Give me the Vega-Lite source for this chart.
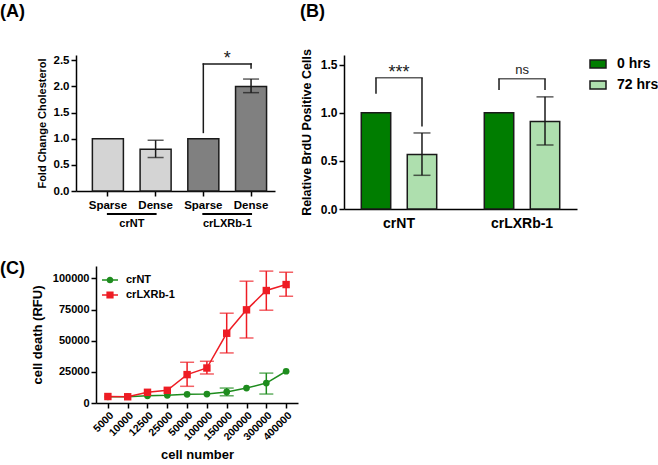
{
  "$schema": "https://vega.github.io/schema/vega-lite/v6.json",
  "padding": {"left": 0, "top": 2, "right": 0, "bottom": 0},
  "config": {
    "font": "Liberation Sans",
    "view": {"stroke": null},
    "axis": {"domainColor": "#000", "domainWidth": 1.5, "tickColor": "#000", "tickWidth": 1.5, "tickSize": 5, "labelColor": "#000", "labelFont": "Liberation Sans", "labelFontWeight": "bold", "titleFont": "Liberation Sans", "titleFontWeight": "bold", "titleColor": "#000", "grid": false, "labelOverlap": false},
    "legend": {"labelFont": "Liberation Sans", "labelFontWeight": "bold", "labelColor": "#000"},
    "title": {"font": "Liberation Sans", "fontWeight": "bold", "fontSize": 18, "anchor": "start", "frame": "group", "color": "#000"}
  },
  "columns": 1,
  "align": "none",
  "spacing": 30,
  "resolve": {"scale": {"color": "independent", "fill": "independent", "shape": "independent"}, "legend": {"color": "independent", "fill": "independent", "shape": "independent"}},
  "concat": [
    {
      "columns": 2,
      "align": "none",
      "spacing": 25,
      "resolve": {"scale": {"color": "independent", "fill": "independent", "shape": "independent"}, "legend": {"color": "independent", "fill": "independent", "shape": "independent"}},
      "concat": [
        {
          "width": 199,
          "height": 136,
          "title": {"text": "(A)", "dx": -76, "offset": 29},
          "data": {"values": [
            {"id": "crNT Sparse", "group": "crNT", "value": 1.0},
            {"id": "crNT Dense", "group": "crNT", "value": 0.8, "lo": 0.64, "hi": 0.97},
            {"id": "crLXRb-1 Sparse", "group": "crLXRb-1", "value": 1.0},
            {"id": "crLXRb-1 Dense", "group": "crLXRb-1", "value": 2.0, "lo": 1.88, "hi": 2.14}
          ]},
          "layer": [
            {
              "mark": {"type": "bar", "stroke": "#1a1a1a", "strokeWidth": 1.5},
              "encoding": {
                "x": {"field": "id", "type": "nominal", "scale": {"domain": ["crNT Sparse", "crNT Dense", "crLXRb-1 Sparse", "crLXRb-1 Dense"], "paddingInner": 0.35, "paddingOuter": 0.26, "align": 0.66},
                  "axis": {"labelExpr": "split(datum.label, ' ')[1]", "labelAngle": 0, "labelFontSize": 11.5, "title": null, "labelPadding": 3}},
                "y": {"field": "value", "type": "quantitative", "scale": {"domain": [0, 2.5]},
                  "axis": {"values": [0, 0.5, 1, 1.5, 2, 2.5], "format": ".1f", "title": "Fold Change Cholesterol", "labelFontSize": 11.5, "titleFontSize": 11, "titlePadding": 6}},
                "fill": {"field": "group", "type": "nominal", "scale": {"domain": ["crNT", "crLXRb-1"], "range": ["#d4d4d4", "#808080"]}, "legend": null}
              }
            },
            {
              "transform": [{"filter": "isValid(datum.lo)"}],
              "mark": {"type": "rule", "strokeWidth": 1.5, "color": "#1a1a1a"},
              "encoding": {"x": {"field": "id", "type": "nominal"}, "y": {"field": "lo", "type": "quantitative", "axis": {"values": [0, 0.5, 1, 1.5, 2, 2.5], "format": ".1f", "title": "Fold Change Cholesterol", "labelFontSize": 11.5, "titleFontSize": 11, "titlePadding": 6}}, "y2": {"field": "hi"}}
            },
            {
              "transform": [{"filter": "isValid(datum.lo)"}],
              "mark": {"type": "tick", "thickness": 1.5, "size": 16, "color": "#1a1a1a"},
              "encoding": {"x": {"field": "id", "type": "nominal"}, "y": {"field": "lo", "type": "quantitative", "axis": {"values": [0, 0.5, 1, 1.5, 2, 2.5], "format": ".1f", "title": "Fold Change Cholesterol", "labelFontSize": 11.5, "titleFontSize": 11, "titlePadding": 6}}}
            },
            {
              "transform": [{"filter": "isValid(datum.lo)"}],
              "mark": {"type": "tick", "thickness": 1.5, "size": 16, "color": "#1a1a1a"},
              "encoding": {"x": {"field": "id", "type": "nominal"}, "y": {"field": "hi", "type": "quantitative", "axis": {"values": [0, 0.5, 1, 1.5, 2, 2.5], "format": ".1f", "title": "Fold Change Cholesterol", "labelFontSize": 11.5, "titleFontSize": 11, "titlePadding": 6}}}
            },
            {
              "data": {"values": [
                {"from": "crLXRb-1 Sparse", "to": "crLXRb-1 Sparse", "y": 1.12, "y2": 2.426},
                {"from": "crLXRb-1 Sparse", "to": "crLXRb-1 Dense", "y": 2.426, "y2": 2.426},
                {"from": "crLXRb-1 Dense", "to": "crLXRb-1 Dense", "y": 2.353, "y2": 2.426}
              ]},
              "mark": {"type": "rule", "strokeWidth": 1.5, "color": "#1a1a1a", "strokeCap": "square"},
              "encoding": {"x": {"field": "from", "type": "nominal"}, "x2": {"field": "to"}, "y": {"field": "y", "type": "quantitative", "axis": {"values": [0, 0.5, 1, 1.5, 2, 2.5], "format": ".1f", "title": "Fold Change Cholesterol", "labelFontSize": 11.5, "titleFontSize": 11, "titlePadding": 6}}, "y2": {"field": "y2"}}
            },
            {
              "data": {"values": [{"at": "crLXRb-1 Sparse", "label": "*", "y": 2.426}]},
              "mark": {"type": "text", "fontSize": 18, "baseline": "alphabetic", "dx": 24, "color": "#1a1a1a"},
              "encoding": {"x": {"field": "at", "type": "nominal"}, "y": {"field": "y", "type": "quantitative", "axis": {"values": [0, 0.5, 1, 1.5, 2, 2.5], "format": ".1f", "title": "Fold Change Cholesterol", "labelFontSize": 11.5, "titleFontSize": 11, "titlePadding": 6}}, "text": {"field": "label"}}
            },
            {
              "data": {"values": [
                {"group": "crNT", "from": "crNT Sparse", "to": "crNT Dense"},
                {"group": "crLXRb-1", "from": "crLXRb-1 Sparse", "to": "crLXRb-1 Dense"}
              ]},
              "layer": [
                {
                  "mark": {"type": "rule", "strokeWidth": 2, "color": "#000", "strokeCap": "square"},
                  "encoding": {"x": {"field": "from", "type": "nominal"}, "x2": {"field": "to"}, "y": {"datum": -0.441, "type": "quantitative", "axis": {"values": [0, 0.5, 1, 1.5, 2, 2.5], "format": ".1f", "title": "Fold Change Cholesterol", "labelFontSize": 11.5, "titleFontSize": 11, "titlePadding": 6}}}
                },
                {
                  "mark": {"type": "text", "fontSize": 11, "fontWeight": "bold", "baseline": "middle", "dx": 24, "color": "#000"},
                  "encoding": {"x": {"field": "from", "type": "nominal"}, "y": {"datum": -0.625, "type": "quantitative", "axis": {"values": [0, 0.5, 1, 1.5, 2, 2.5], "format": ".1f", "title": "Fold Change Cholesterol", "labelFontSize": 11.5, "titleFontSize": 11, "titlePadding": 6}}, "text": {"field": "group"}}
                }
              ]
            }
          ]
        },
        {
          "width": 233,
          "height": 154,
          "title": {"text": "(B)", "dx": -44, "offset": 28},
          "data": {"values": [
            {"group": "crNT", "time": "0 hrs", "value": 1.0},
            {"group": "crNT", "time": "72 hrs", "value": 0.565, "lo": 0.35, "hi": 0.79},
            {"group": "crLXRb-1", "time": "0 hrs", "value": 1.0},
            {"group": "crLXRb-1", "time": "72 hrs", "value": 0.91, "lo": 0.665, "hi": 1.165}
          ]},
          "layer": [
            {
              "mark": {"type": "bar", "stroke": "#1a1a1a", "strokeWidth": 1.5},
              "encoding": {
                "x": {"field": "group", "type": "nominal", "scale": {"domain": ["crNT", "crLXRb-1"], "paddingInner": 0.2, "paddingOuter": 0.047},
                  "axis": {"labelAngle": 0, "labelFontSize": 14, "ticks": false, "labelPadding": 7, "title": null}},
                "xOffset": {"field": "time", "type": "nominal", "scale": {"domain": ["0 hrs", "72 hrs"], "paddingInner": 0.36, "paddingOuter": 0.25}},
                "y": {"field": "value", "type": "quantitative", "scale": {"domain": [0, 1.5]},
                  "axis": {"values": [0, 0.5, 1, 1.5], "format": ".1f", "title": "Relative BrdU Positive Cells", "labelFontSize": 12, "titleFontSize": 12.5, "titlePadding": 7}},
                "fill": {"field": "time", "type": "nominal", "scale": {"domain": ["0 hrs", "72 hrs"], "range": ["#007d00", "#aedfae"]},
                  "legend": {"title": null, "orient": "right", "offset": 12, "padding": 0, "symbolType": "M-1,-0.5H1V0.5H-1Z", "symbolSize": 256, "symbolStrokeColor": "#1a1a1a", "symbolStrokeWidth": 1.5, "symbolOpacity": 1, "labelFontSize": 14, "labelOffset": 10, "rowPadding": 5, "labelLimit": 200}}
              }
            },
            {
              "transform": [{"filter": "isValid(datum.lo)"}],
              "mark": {"type": "rule", "strokeWidth": 1.5, "color": "#1a1a1a"},
              "encoding": {"x": {"field": "group", "type": "nominal"}, "xOffset": {"field": "time", "type": "nominal"}, "y": {"field": "lo", "type": "quantitative"}, "y2": {"field": "hi"}}
            },
            {
              "transform": [{"filter": "isValid(datum.lo)"}],
              "mark": {"type": "tick", "thickness": 1.5, "size": 17, "color": "#1a1a1a"},
              "encoding": {"x": {"field": "group", "type": "nominal"}, "xOffset": {"field": "time", "type": "nominal"}, "y": {"field": "lo", "type": "quantitative"}}
            },
            {
              "transform": [{"filter": "isValid(datum.lo)"}],
              "mark": {"type": "tick", "thickness": 1.5, "size": 17, "color": "#1a1a1a"},
              "encoding": {"x": {"field": "group", "type": "nominal"}, "xOffset": {"field": "time", "type": "nominal"}, "y": {"field": "hi", "type": "quantitative"}}
            },
            {
              "data": {"values": [
                {"group": "crNT", "time": "0 hrs", "y": 1.198, "y2": 1.364},
                {"group": "crNT", "time": "72 hrs", "y": 0.857, "y2": 1.364},
                {"group": "crLXRb-1", "time": "0 hrs", "y": 1.237, "y2": 1.354},
                {"group": "crLXRb-1", "time": "72 hrs", "y": 1.237, "y2": 1.354}
              ]},
              "mark": {"type": "rule", "strokeWidth": 1.5, "color": "#1a1a1a"},
              "encoding": {"x": {"field": "group", "type": "nominal"}, "xOffset": {"field": "time", "type": "nominal"}, "y": {"field": "y", "type": "quantitative"}, "y2": {"field": "y2"}}
            },
            {
              "data": {"values": [
                {"group": "crNT", "y": 1.364, "label": "***"},
                {"group": "crLXRb-1", "y": 1.354, "label": "ns"}
              ]},
              "layer": [
                {
                  "mark": {"type": "tick", "thickness": 1.5, "size": 47.5, "color": "#1a1a1a"},
                  "encoding": {"x": {"field": "group", "type": "nominal"}, "y": {"field": "y", "type": "quantitative"}}
                },
                {
                  "transform": [{"filter": "datum.label == '***'"}],
                  "mark": {"type": "text", "fontSize": 18, "baseline": "alphabetic", "color": "#1a1a1a"},
                  "encoding": {"x": {"field": "group", "type": "nominal"}, "y": {"field": "y", "type": "quantitative"}, "text": {"field": "label"}}
                },
                {
                  "transform": [{"filter": "datum.label == 'ns'"}],
                  "mark": {"type": "text", "fontSize": 13, "baseline": "alphabetic", "dy": -5, "color": "#1a1a1a"},
                  "encoding": {"x": {"field": "group", "type": "nominal"}, "y": {"field": "y", "type": "quantitative"}, "text": {"field": "label"}}
                }
              ]
            }
          ]
        }
      ]
    },
    {
      "columns": 2,
      "align": "none",
      "spacing": -77,
      "resolve": {"scale": {"color": "independent", "fill": "independent", "shape": "independent"}, "legend": {"color": "independent", "fill": "independent", "shape": "independent"}},
      "concat": [
        {"width": 1, "height": 1, "data": {"values": [{"t": ""}]}, "mark": "text", "encoding": {"text": {"field": "t"}}},
        {
          "width": 202,
          "height": 137,
          "title": {"text": "(C)", "dx": -96, "offset": -12},
          "data": {"values": [
            {"n": "5000", "series": "crNT", "value": 5000},
            {"n": "10000", "series": "crNT", "value": 5100},
            {"n": "12500", "series": "crNT", "value": 5800},
            {"n": "25000", "series": "crNT", "value": 6200},
            {"n": "50000", "series": "crNT", "value": 7000},
            {"n": "100000", "series": "crNT", "value": 7200},
            {"n": "150000", "series": "crNT", "value": 8900, "lo": 5800, "hi": 12000},
            {"n": "200000", "series": "crNT", "value": 12000},
            {"n": "300000", "series": "crNT", "value": 16000, "lo": 7200, "hi": 24000},
            {"n": "400000", "series": "crNT", "value": 25500},
            {"n": "5000", "series": "crLXRb-1", "value": 5200},
            {"n": "10000", "series": "crLXRb-1", "value": 5000},
            {"n": "12500", "series": "crLXRb-1", "value": 8600},
            {"n": "25000", "series": "crLXRb-1", "value": 10200},
            {"n": "50000", "series": "crLXRb-1", "value": 22800, "lo": 13400, "hi": 32700},
            {"n": "100000", "series": "crLXRb-1", "value": 28100, "lo": 23300, "hi": 33500},
            {"n": "150000", "series": "crLXRb-1", "value": 56000, "lo": 40200, "hi": 72100},
            {"n": "200000", "series": "crLXRb-1", "value": 74800, "lo": 52200, "hi": 97800},
            {"n": "300000", "series": "crLXRb-1", "value": 90300, "lo": 74500, "hi": 105900},
            {"n": "400000", "series": "crLXRb-1", "value": 95100, "lo": 85700, "hi": 105000}
          ]},
          "encoding": {
            "x": {"field": "n", "type": "ordinal", "sort": null, "scale": {"type": "point", "padding": 0.6},
              "axis": {"labelAngle": -45, "labelFontSize": 10.5, "title": "cell number", "titleFontSize": 13, "titlePadding": 6}},
            "y": {"field": "value", "type": "quantitative", "scale": {"domain": [0, 110000]},
              "axis": {"values": [0, 25000, 50000, 75000, 100000], "format": "d", "title": "cell death (RFU)", "labelFontSize": 11, "titleFontSize": 13, "titlePadding": 8}},
            "color": {"field": "series", "type": "nominal", "scale": {"domain": ["crNT", "crLXRb-1"], "range": ["#1e8c1e", "#ee1c24"]},
              "legend": {"title": null, "orient": "top-left", "offset": 6, "padding": 0, "labelFontSize": 11, "labelOffset": 8, "rowPadding": 2, "symbolSize": 256, "symbolStrokeWidth": 0, "symbolOpacity": 1}}
          },
          "layer": [
            {
              "mark": {"type": "line", "strokeWidth": 1.5}
            },
            {
              "transform": [{"filter": "isValid(datum.lo)"}],
              "mark": {"type": "rule", "strokeWidth": 1.5},
              "encoding": {"y": {"field": "lo", "type": "quantitative"}, "y2": {"field": "hi"}}
            },
            {
              "transform": [{"filter": "isValid(datum.lo)"}],
              "mark": {"type": "tick", "thickness": 1.5, "size": 14, "orient": "horizontal"},
              "encoding": {"y": {"field": "lo", "type": "quantitative"}}
            },
            {
              "transform": [{"filter": "isValid(datum.lo)"}],
              "mark": {"type": "tick", "thickness": 1.5, "size": 14, "orient": "horizontal"},
              "encoding": {"y": {"field": "hi", "type": "quantitative"}}
            },
            {
              "transform": [{"filter": "datum.series == 'crNT'"}],
              "mark": {"type": "point", "filled": true, "opacity": 1, "size": 45, "shape": "circle"}
            },
            {
              "transform": [{"filter": "datum.series == 'crLXRb-1'"}],
              "mark": {"type": "point", "filled": true, "opacity": 1, "size": 55, "shape": "square"}
            },
            {
              "transform": [{"filter": "false"}],
              "mark": {"type": "point", "filled": true, "opacity": 1},
              "encoding": {
                "shape": {"field": "series", "type": "nominal", "scale": {"domain": ["crNT", "crLXRb-1"],
                  "range": ["M-1,-0.09H1V0.09H-1Z M0.42,0A0.42,0.42,0,1,1,-0.42,0A0.42,0.42,0,1,1,0.42,0Z", "M-1,-0.09H1V0.09H-1Z M-0.45,-0.45H0.45V0.45H-0.45Z"]},
                  "legend": {"title": null, "orient": "top-left", "offset": 6, "padding": 0, "labelFontSize": 11, "labelOffset": 8, "rowPadding": 2, "symbolSize": 256, "symbolStrokeWidth": 0, "symbolOpacity": 1}}
              }
            }
          ]
        }
      ]
    }
  ]
}
